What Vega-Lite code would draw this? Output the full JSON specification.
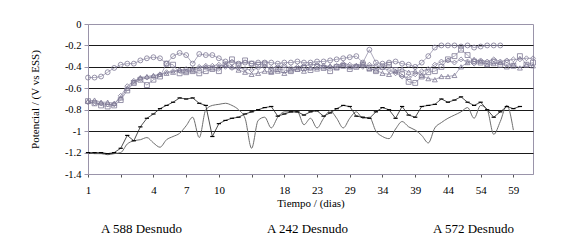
{
  "$schema": "https://vega.github.io/schema/vega-lite/v6.json",
  "autosize": "none",
  "padding": {"left": 88, "top": 24, "right": 45, "bottom": 71},
  "width": 445,
  "height": 150,
  "background": "white",
  "config": {
    "view": {"stroke": "#9a94aa", "strokeWidth": 1},
    "font": "Liberation Serif, Times New Roman, serif"
  },
  "datasets": {
    "up": [
      {"s":"C","i":0,"v":-0.50},{"s":"C","i":1,"v":-0.50},{"s":"C","i":2,"v":-0.49},{"s":"C","i":3,"v":-0.45},{"s":"C","i":4,"v":-0.41},{"s":"C","i":5,"v":-0.38},{"s":"C","i":6,"v":-0.37},{"s":"C","i":7,"v":-0.37},{"s":"C","i":8,"v":-0.34},{"s":"C","i":9,"v":-0.32},{"s":"C","i":10,"v":-0.31},{"s":"C","i":11,"v":-0.32},{"s":"C","i":12,"v":-0.37},{"s":"C","i":13,"v":-0.30},{"s":"C","i":14,"v":-0.27},{"s":"C","i":15,"v":-0.29},{"s":"C","i":16,"v":-0.37},{"s":"C","i":17,"v":-0.28},{"s":"C","i":18,"v":-0.29},{"s":"C","i":19,"v":-0.29},{"s":"C","i":20,"v":-0.32},{"s":"C","i":21,"v":-0.35},{"s":"C","i":22,"v":-0.36},{"s":"C","i":23,"v":-0.37},{"s":"C","i":24,"v":-0.36},{"s":"C","i":25,"v":-0.37},{"s":"C","i":26,"v":-0.36},{"s":"C","i":27,"v":-0.36},{"s":"C","i":28,"v":-0.36},{"s":"C","i":29,"v":-0.37},{"s":"C","i":30,"v":-0.36},{"s":"C","i":31,"v":-0.36},{"s":"C","i":32,"v":-0.35},{"s":"C","i":33,"v":-0.36},{"s":"C","i":34,"v":-0.36},{"s":"C","i":35,"v":-0.35},{"s":"C","i":36,"v":-0.35},{"s":"C","i":37,"v":-0.34},{"s":"C","i":38,"v":-0.33},{"s":"C","i":39,"v":-0.32},{"s":"C","i":40,"v":-0.31},{"s":"C","i":41,"v":-0.30},{"s":"C","i":42,"v":-0.36},{"s":"C","i":43,"v":-0.24},{"s":"C","i":44,"v":-0.36},{"s":"C","i":45,"v":-0.37},{"s":"C","i":46,"v":-0.36},{"s":"C","i":47,"v":-0.35},{"s":"C","i":48,"v":-0.37},{"s":"C","i":49,"v":-0.38},{"s":"C","i":50,"v":-0.40},{"s":"C","i":51,"v":-0.36},{"s":"C","i":52,"v":-0.30},{"s":"C","i":53,"v":-0.22},{"s":"C","i":54,"v":-0.20},{"s":"C","i":55,"v":-0.20},{"s":"C","i":56,"v":-0.20},{"s":"C","i":57,"v":-0.21},{"s":"C","i":58,"v":-0.20},{"s":"C","i":59,"v":-0.22},{"s":"C","i":60,"v":-0.21},{"s":"C","i":61,"v":-0.20},{"s":"C","i":62,"v":-0.20},{"s":"C","i":63,"v":-0.20},
      {"s":"S","i":0,"v":-0.72},{"s":"S","i":1,"v":-0.74},{"s":"S","i":2,"v":-0.76},{"s":"S","i":3,"v":-0.77},{"s":"S","i":4,"v":-0.76},{"s":"S","i":5,"v":-0.71},{"s":"S","i":6,"v":-0.62},{"s":"S","i":7,"v":-0.55},{"s":"S","i":8,"v":-0.52},{"s":"S","i":9,"v":-0.57},{"s":"S","i":10,"v":-0.52},{"s":"S","i":11,"v":-0.49},{"s":"S","i":12,"v":-0.37},{"s":"S","i":13,"v":-0.38},{"s":"S","i":14,"v":-0.46},{"s":"S","i":15,"v":-0.45},{"s":"S","i":16,"v":-0.44},{"s":"S","i":17,"v":-0.46},{"s":"S","i":18,"v":-0.44},{"s":"S","i":19,"v":-0.42},{"s":"S","i":20,"v":-0.44},{"s":"S","i":21,"v":-0.38},{"s":"S","i":22,"v":-0.33},{"s":"S","i":23,"v":-0.38},{"s":"S","i":24,"v":-0.34},{"s":"S","i":25,"v":-0.37},{"s":"S","i":26,"v":-0.38},{"s":"S","i":27,"v":-0.37},{"s":"S","i":28,"v":-0.44},{"s":"S","i":29,"v":-0.42},{"s":"S","i":30,"v":-0.43},{"s":"S","i":31,"v":-0.44},{"s":"S","i":32,"v":-0.42},{"s":"S","i":33,"v":-0.41},{"s":"S","i":34,"v":-0.43},{"s":"S","i":35,"v":-0.40},{"s":"S","i":36,"v":-0.41},{"s":"S","i":37,"v":-0.44},{"s":"S","i":38,"v":-0.40},{"s":"S","i":39,"v":-0.39},{"s":"S","i":40,"v":-0.42},{"s":"S","i":41,"v":-0.40},{"s":"S","i":42,"v":-0.38},{"s":"S","i":43,"v":-0.41},{"s":"S","i":44,"v":-0.44},{"s":"S","i":45,"v":-0.40},{"s":"S","i":46,"v":-0.38},{"s":"S","i":47,"v":-0.43},{"s":"S","i":48,"v":-0.47},{"s":"S","i":49,"v":-0.54},{"s":"S","i":50,"v":-0.55},{"s":"S","i":51,"v":-0.49},{"s":"S","i":52,"v":-0.45},{"s":"S","i":53,"v":-0.44},{"s":"S","i":54,"v":-0.40},{"s":"S","i":55,"v":-0.33},{"s":"S","i":56,"v":-0.30},{"s":"S","i":57,"v":-0.24},{"s":"S","i":58,"v":-0.29},{"s":"S","i":59,"v":-0.35},{"s":"S","i":60,"v":-0.36},{"s":"S","i":61,"v":-0.37},{"s":"S","i":62,"v":-0.35},{"s":"S","i":63,"v":-0.38},{"s":"S","i":64,"v":-0.36},{"s":"S","i":65,"v":-0.39},{"s":"S","i":66,"v":-0.30},{"s":"S","i":67,"v":-0.38},{"s":"S","i":68,"v":-0.36},
      {"s":"T","i":0,"v":-0.72},{"s":"T","i":1,"v":-0.71},{"s":"T","i":2,"v":-0.73},{"s":"T","i":3,"v":-0.73},{"s":"T","i":4,"v":-0.74},{"s":"T","i":5,"v":-0.69},{"s":"T","i":6,"v":-0.60},{"s":"T","i":7,"v":-0.54},{"s":"T","i":8,"v":-0.50},{"s":"T","i":9,"v":-0.49},{"s":"T","i":10,"v":-0.48},{"s":"T","i":11,"v":-0.47},{"s":"T","i":12,"v":-0.46},{"s":"T","i":13,"v":-0.45},{"s":"T","i":14,"v":-0.43},{"s":"T","i":15,"v":-0.44},{"s":"T","i":16,"v":-0.43},{"s":"T","i":17,"v":-0.41},{"s":"T","i":18,"v":-0.40},{"s":"T","i":19,"v":-0.41},{"s":"T","i":20,"v":-0.40},{"s":"T","i":21,"v":-0.38},{"s":"T","i":22,"v":-0.40},{"s":"T","i":23,"v":-0.43},{"s":"T","i":24,"v":-0.45},{"s":"T","i":25,"v":-0.47},{"s":"T","i":26,"v":-0.46},{"s":"T","i":27,"v":-0.44},{"s":"T","i":28,"v":-0.45},{"s":"T","i":29,"v":-0.44},{"s":"T","i":30,"v":-0.46},{"s":"T","i":31,"v":-0.43},{"s":"T","i":32,"v":-0.42},{"s":"T","i":33,"v":-0.44},{"s":"T","i":34,"v":-0.41},{"s":"T","i":35,"v":-0.42},{"s":"T","i":36,"v":-0.40},{"s":"T","i":37,"v":-0.39},{"s":"T","i":38,"v":-0.41},{"s":"T","i":39,"v":-0.38},{"s":"T","i":40,"v":-0.40},{"s":"T","i":41,"v":-0.39},{"s":"T","i":42,"v":-0.37},{"s":"T","i":43,"v":-0.42},{"s":"T","i":44,"v":-0.43},{"s":"T","i":45,"v":-0.46},{"s":"T","i":46,"v":-0.47},{"s":"T","i":47,"v":-0.44},{"s":"T","i":48,"v":-0.42},{"s":"T","i":49,"v":-0.45},{"s":"T","i":50,"v":-0.44},{"s":"T","i":51,"v":-0.48},{"s":"T","i":52,"v":-0.51},{"s":"T","i":53,"v":-0.52},{"s":"T","i":54,"v":-0.49},{"s":"T","i":55,"v":-0.49},{"s":"T","i":56,"v":-0.48},{"s":"T","i":57,"v":-0.40},{"s":"T","i":58,"v":-0.36},{"s":"T","i":59,"v":-0.33},{"s":"T","i":60,"v":-0.35},{"s":"T","i":61,"v":-0.38},{"s":"T","i":62,"v":-0.37},{"s":"T","i":63,"v":-0.36},{"s":"T","i":64,"v":-0.40},{"s":"T","i":65,"v":-0.38},{"s":"T","i":66,"v":-0.41},{"s":"T","i":67,"v":-0.38},{"s":"T","i":68,"v":-0.39},
      {"s":"D","i":0,"v":-0.73},{"s":"D","i":1,"v":-0.74},{"s":"D","i":2,"v":-0.74},{"s":"D","i":3,"v":-0.75},{"s":"D","i":4,"v":-0.75},{"s":"D","i":5,"v":-0.67},{"s":"D","i":6,"v":-0.58},{"s":"D","i":7,"v":-0.53},{"s":"D","i":8,"v":-0.51},{"s":"D","i":9,"v":-0.50},{"s":"D","i":10,"v":-0.49},{"s":"D","i":11,"v":-0.47},{"s":"D","i":12,"v":-0.45},{"s":"D","i":13,"v":-0.44},{"s":"D","i":14,"v":-0.43},{"s":"D","i":15,"v":-0.42},{"s":"D","i":16,"v":-0.42},{"s":"D","i":17,"v":-0.40},{"s":"D","i":18,"v":-0.39},{"s":"D","i":19,"v":-0.39},{"s":"D","i":20,"v":-0.38},{"s":"D","i":21,"v":-0.40},{"s":"D","i":22,"v":-0.41},{"s":"D","i":23,"v":-0.41},{"s":"D","i":24,"v":-0.42},{"s":"D","i":25,"v":-0.43},{"s":"D","i":26,"v":-0.41},{"s":"D","i":27,"v":-0.40},{"s":"D","i":28,"v":-0.41},{"s":"D","i":29,"v":-0.40},{"s":"D","i":30,"v":-0.39},{"s":"D","i":31,"v":-0.41},{"s":"D","i":32,"v":-0.40},{"s":"D","i":33,"v":-0.39},{"s":"D","i":34,"v":-0.38},{"s":"D","i":35,"v":-0.38},{"s":"D","i":36,"v":-0.39},{"s":"D","i":37,"v":-0.40},{"s":"D","i":38,"v":-0.39},{"s":"D","i":39,"v":-0.37},{"s":"D","i":40,"v":-0.38},{"s":"D","i":41,"v":-0.39},{"s":"D","i":42,"v":-0.40},{"s":"D","i":43,"v":-0.38},{"s":"D","i":44,"v":-0.39},{"s":"D","i":45,"v":-0.41},{"s":"D","i":46,"v":-0.43},{"s":"D","i":47,"v":-0.46},{"s":"D","i":48,"v":-0.49},{"s":"D","i":49,"v":-0.50},{"s":"D","i":50,"v":-0.47},{"s":"D","i":51,"v":-0.44},{"s":"D","i":52,"v":-0.42},{"s":"D","i":53,"v":-0.38},{"s":"D","i":54,"v":-0.35},{"s":"D","i":55,"v":-0.34},{"s":"D","i":56,"v":-0.36},{"s":"D","i":57,"v":-0.33},{"s":"D","i":58,"v":-0.35},{"s":"D","i":59,"v":-0.37},{"s":"D","i":60,"v":-0.34},{"s":"D","i":61,"v":-0.35},{"s":"D","i":62,"v":-0.33},{"s":"D","i":63,"v":-0.35},{"s":"D","i":64,"v":-0.34},{"s":"D","i":65,"v":-0.33},{"s":"D","i":66,"v":-0.33},{"s":"D","i":67,"v":-0.32},{"s":"D","i":68,"v":-0.32}
    ],
    "low": [
      {"s":"L1","i":0,"v":-1.20},{"s":"L1","i":1,"v":-1.20},{"s":"L1","i":2,"v":-1.20},{"s":"L1","i":3,"v":-1.21},{"s":"L1","i":4,"v":-1.20},{"s":"L1","i":5,"v":-1.16},{"s":"L1","i":6,"v":-1.04},{"s":"L1","i":7,"v":-1.09},{"s":"L1","i":8,"v":-0.96},{"s":"L1","i":9,"v":-0.88},{"s":"L1","i":10,"v":-0.84},{"s":"L1","i":11,"v":-0.79},{"s":"L1","i":12,"v":-0.76},{"s":"L1","i":13,"v":-0.73},{"s":"L1","i":14,"v":-0.69},{"s":"L1","i":15,"v":-0.70},{"s":"L1","i":16,"v":-0.69},{"s":"L1","i":17,"v":-0.74},{"s":"L1","i":18,"v":-0.76},{"s":"L1","i":19,"v":-1.05},{"s":"L1","i":20,"v":-0.93},{"s":"L1","i":21,"v":-0.90},{"s":"L1","i":22,"v":-0.88},{"s":"L1","i":23,"v":-0.87},{"s":"L1","i":24,"v":-0.84},{"s":"L1","i":25,"v":-0.82},{"s":"L1","i":26,"v":-0.80},{"s":"L1","i":27,"v":-0.78},{"s":"L1","i":28,"v":-0.77},{"s":"L1","i":29,"v":-0.86},{"s":"L1","i":30,"v":-0.84},{"s":"L1","i":31,"v":-0.82},{"s":"L1","i":32,"v":-0.82},{"s":"L1","i":33,"v":-0.85},{"s":"L1","i":34,"v":-0.82},{"s":"L1","i":35,"v":-0.81},{"s":"L1","i":36,"v":-0.86},{"s":"L1","i":37,"v":-0.83},{"s":"L1","i":38,"v":-0.79},{"s":"L1","i":39,"v":-0.76},{"s":"L1","i":40,"v":-0.77},{"s":"L1","i":41,"v":-0.86},{"s":"L1","i":42,"v":-0.87},{"s":"L1","i":43,"v":-0.88},{"s":"L1","i":44,"v":-0.82},{"s":"L1","i":45,"v":-0.78},{"s":"L1","i":46,"v":-0.80},{"s":"L1","i":47,"v":-0.88},{"s":"L1","i":48,"v":-0.77},{"s":"L1","i":49,"v":-0.85},{"s":"L1","i":50,"v":-0.87},{"s":"L1","i":51,"v":-0.77},{"s":"L1","i":52,"v":-0.76},{"s":"L1","i":53,"v":-0.75},{"s":"L1","i":54,"v":-0.70},{"s":"L1","i":55,"v":-0.73},{"s":"L1","i":56,"v":-0.71},{"s":"L1","i":57,"v":-0.68},{"s":"L1","i":58,"v":-0.73},{"s":"L1","i":59,"v":-0.76},{"s":"L1","i":60,"v":-0.73},{"s":"L1","i":61,"v":-0.80},{"s":"L1","i":62,"v":-0.87},{"s":"L1","i":63,"v":-0.82},{"s":"L1","i":64,"v":-0.77},{"s":"L1","i":65,"v":-0.79},{"s":"L1","i":66,"v":-0.77},
      {"s":"L2","i":0,"v":-1.20},{"s":"L2","i":1,"v":-1.21},{"s":"L2","i":2,"v":-1.21},{"s":"L2","i":3,"v":-1.22},{"s":"L2","i":4,"v":-1.21},{"s":"L2","i":5,"v":-1.20},{"s":"L2","i":6,"v":-1.12},{"s":"L2","i":7,"v":-1.09},{"s":"L2","i":8,"v":-1.08},{"s":"L2","i":9,"v":-1.06},{"s":"L2","i":10,"v":-1.11},{"s":"L2","i":11,"v":-1.15},{"s":"L2","i":12,"v":-1.08},{"s":"L2","i":13,"v":-1.05},{"s":"L2","i":14,"v":-1.02},{"s":"L2","i":15,"v":-0.95},{"s":"L2","i":16,"v":-0.87},{"s":"L2","i":17,"v":-1.06},{"s":"L2","i":18,"v":-0.80},{"s":"L2","i":19,"v":-0.76},{"s":"L2","i":20,"v":-0.75},{"s":"L2","i":21,"v":-0.74},{"s":"L2","i":22,"v":-0.76},{"s":"L2","i":23,"v":-0.80},{"s":"L2","i":24,"v":-0.88},{"s":"L2","i":25,"v":-1.16},{"s":"L2","i":26,"v":-0.90},{"s":"L2","i":27,"v":-0.87},{"s":"L2","i":28,"v":-0.97},{"s":"L2","i":29,"v":-0.87},{"s":"L2","i":30,"v":-0.82},{"s":"L2","i":31,"v":-0.82},{"s":"L2","i":32,"v":-0.82},{"s":"L2","i":33,"v":-0.94},{"s":"L2","i":34,"v":-0.88},{"s":"L2","i":35,"v":-0.97},{"s":"L2","i":36,"v":-0.88},{"s":"L2","i":37,"v":-0.81},{"s":"L2","i":38,"v":-0.88},{"s":"L2","i":39,"v":-0.97},{"s":"L2","i":40,"v":-0.88},{"s":"L2","i":41,"v":-0.82},{"s":"L2","i":42,"v":-0.88},{"s":"L2","i":43,"v":-0.87},{"s":"L2","i":44,"v":-1.00},{"s":"L2","i":45,"v":-1.05},{"s":"L2","i":46,"v":-1.07},{"s":"L2","i":47,"v":-0.98},{"s":"L2","i":48,"v":-0.91},{"s":"L2","i":49,"v":-0.96},{"s":"L2","i":50,"v":-0.99},{"s":"L2","i":51,"v":-1.04},{"s":"L2","i":52,"v":-1.11},{"s":"L2","i":53,"v":-0.97},{"s":"L2","i":54,"v":-0.92},{"s":"L2","i":55,"v":-0.88},{"s":"L2","i":56,"v":-0.85},{"s":"L2","i":57,"v":-0.82},{"s":"L2","i":58,"v":-0.78},{"s":"L2","i":59,"v":-0.88},{"s":"L2","i":60,"v":-0.76},{"s":"L2","i":61,"v":-0.80},{"s":"L2","i":62,"v":-1.03},{"s":"L2","i":63,"v":-0.91},{"s":"L2","i":64,"v":-0.76},{"s":"L2","i":65,"v":-0.99}
    ],
    "names": [{"name":"A 588 Desnudo"},{"name":"A 242 Desnudo"},{"name":"A 572 Desnudo"}]
  },
  "encoding": {
    "x": {"field": "i", "type": "quantitative",
      "scale": {"domain": [0, 68], "nice": false, "zero": false},
      "axis": {"values": [0,5,10,15,20,25,30,35,40,45,50,55,60,65],
        "labelExpr": "['1','','4','7','10','','18','23','29','34','39','44','54','59'][round(datum.value/5)]",
        "grid": false, "domainColor": "#9a94aa", "tickColor": "#555", "tickSize": 3,
        "labelFont": "Liberation Serif", "labelFontSize": 11, "labelPadding": 7, "labelFlush": false, "labelColor": "#000",
        "title": "Tiempo / (dias)", "titleFont": "Liberation Serif", "titleFontWeight": "normal", "titleColor": "#000", "titleFontSize": 11, "titlePadding": 2}},
    "y": {"field": "v", "type": "quantitative",
      "scale": {"domain": [-1.4, 0], "nice": false},
      "axis": {"values": [0,-0.2,-0.4,-0.6,-0.8,-1,-1.2,-1.4],
        "labelExpr": "datum.value == 0 ? '0' : '-' + format(-datum.value, '~g')",
        "grid": true,
        "gridColor": {"condition": {"test": "datum.value == 0 || datum.value < -1.39", "value": "transparent"}, "value": "#1a1a1a"},
        "gridWidth": 1,
        "domainColor": "#9a94aa", "tickColor": "#9a94aa", "tickSize": 4,
        "labelFont": "Liberation Serif", "labelFontSize": 10.5, "labelPadding": 3, "labelColor": "#000",
        "title": "Potencial / (V vs ESS)", "titleFont": "Liberation Serif", "titleFontWeight": "normal", "titleColor": "#000", "titleFontSize": 11, "titlePadding": 24}}
  },
  "layer": [
    {"data": {"name": "low"}, "transform": [{"filter": "datum.s == 'L2'"}],
     "mark": {"type": "line", "interpolate": "monotone", "color": "#6e6e6e", "strokeWidth": 1},
     "encoding": {}},
    {"data": {"name": "up"},
     "mark": {"type": "line", "color": "#8a85a0", "strokeWidth": 0.7},
     "encoding": {"detail": {"field": "s"}}},
    {"data": {"name": "up"},
     "mark": {"type": "point", "filled": false, "size": 24, "strokeWidth": 0.8, "color": "#7e7994", "opacity": 1},
     "encoding": {"shape": {"field": "s", "type": "nominal",
        "scale": {"domain": ["C","S","T","D"], "range": ["circle","square","triangle-up","diamond"]}, "legend": null}}},
    {"data": {"name": "low"}, "transform": [{"filter": "datum.s == 'L1'"}],
     "mark": {"type": "line", "color": "#222", "strokeWidth": 0.8},
     "encoding": {}},
    {"data": {"name": "low"}, "transform": [{"filter": "datum.s == 'L1'"}],
     "mark": {"type": "point", "shape": "stroke", "size": 18, "strokeWidth": 1.2, "color": "#000", "opacity": 1},
     "encoding": {}},
    {"data": {"name": "names"},
     "mark": {"type": "point", "opacity": 0},
     "encoding": {
       "x": {"value": 0}, "y": {"value": 0},
       "color": {"field": "name", "type": "nominal",
        "sort": ["A 588 Desnudo","A 242 Desnudo","A 572 Desnudo"],
        "scale": {"range": ["#000","#000","#000"]},
        "legend": {"orient": "none", "legendX": 0, "legendY": 198, "direction": "horizontal", "columns": 3,
          "title": null, "symbolSize": 0, "symbolOpacity": 0, "labelOffset": 0, "padding": 0,
          "columnPadding": 71, "labelFont": "Liberation Serif", "labelFontSize": 13, "labelColor": "#000", "labelLimit": 0}}}}
  ]
}
